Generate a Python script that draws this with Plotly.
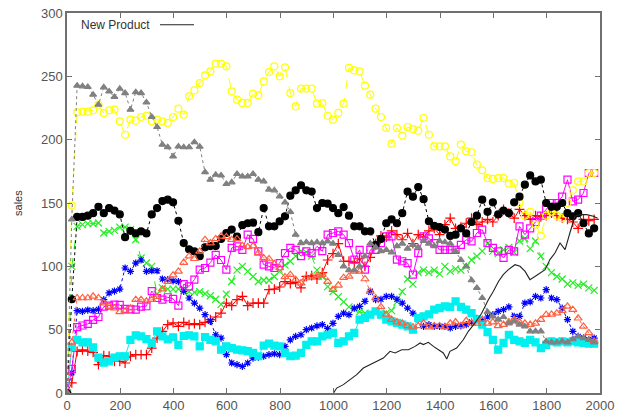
import plotly.graph_objects as go

# sample grid (time steps)
steps = [0] + [18 + 20 * k for k in range(99)]

red_plus = [0, 8,
    32.9, 34, 33, 32, 22.4, 29.5, 29, 25, 25, 23.7, 29, 30.3, 30.3, 30.3, 35.5, 43.4, 48.7, 54, 55.3, 52.6, 55.8, 54, 54.7,
    54, 55.8, 57.9, 60, 63, 71, 69, 73.7, 76.3, 69, 71, 71, 71, 81.6, 82, 83.7, 88, 86.3, 87.4, 83, 92, 92.6,
    90, 95, 105, 110, 118, 104, 104, 103, 106, 100, 107, 118, 124, 123, 128, 125, 121, 126, 118, 125, 123, 128, 130, 125,
    133, 138, 130, 131, 134, 138, 133, 135, 137, 135, 140, 145, 142, 138, 145, 140, 137, 140, 139, 140, 142, 140, 138,
    137, 135, 130, 137, 136, 137]

green_x = [0, 100,
    131.6, 132.9, 133.7, 133.7, 134.2, 126.3, 127.6, 128.4, 131, 131, 129, 121, 106.6, 102.6, 100, 78, 83, 82, 82, 82, 81, 80,
    79.5, 80, 78.4, 76.8,
    74, 70, 78, 88, 97, 100, 96, 92, 88, 89, 89, 92, 96, 101, 104, 108, 112, 111, 108, 97, 92, 84,
    80, 76, 72, 68, 66, 64, 63, 62, 63, 62, 63, 65, 72, 80, 90, 86, 95, 97, 95, 97, 94, 100, 96, 98, 97, 100,
    105, 108, 112, 118, 112, 110, 113, 115, 111, 120, 122, 114, 120, 108, 100, 95, 92, 90, 86, 87, 85, 86, 83, 81]

blue_star = [0, 16,
    65, 64.5, 65.5, 65, 66, 73.7, 79, 80.5, 82, 98.7, 96, 102.6, 105, 96, 96.5, 96.5, 90, 89.5, 88.5, 88, 80.3, 75, 71,
    67, 61.8, 56.6, 46, 43.4, 30.3, 23.7, 22.4, 21, 23.7, 27.6, 28.4, 29, 30.3, 31, 30.3, 36.8, 42, 44.7, 46, 50, 51.3,
    53, 54, 51, 55, 60.5, 63, 61.8, 67, 68.4, 72.4, 80.3, 73.7, 74, 76.3, 76.3, 74, 71, 67, 63, 58, 52.6, 54, 52.6,
    52.6, 52.6, 51.3, 52.6, 53, 54, 56, 59, 57, 60, 61.8, 64.5, 65.8, 68, 60.5, 60.5, 71, 72, 76.3, 75, 81.6, 75,
    73.7, 67, 58, 48.7, 44.7, 43.4, 42, 43.4]

magenta_sq = [0, 19,
    52, 53.3, 54.6, 57.7, 60, 68.2, 69, 69.7, 69.5, 66.4, 66, 65.8, 68.2, 68.5, 80.5, 75, 73.7, 75.6, 74.3, 69, 86, 84.2, 89.5,
    97.4, 98.7, 103, 109, 105, 97.4, 114.5, 115.8, 113, 125, 121.6, 111.8, 101.3, 100, 98.7, 102.6, 110.5, 114.5, 113, 108,
    111.8, 110.5,
    115.8, 112, 125, 126.3, 127.6, 125, 118.4, 105.3, 113, 97.4, 113, 113, 118.4, 123.7, 123.7, 105.3, 104, 102.6, 93.4,
    110.5, 123.7, 122, 118.4, 113, 113, 113, 113, 117, 121, 119.7, 126.3, 129, 118.4, 114.5, 111.8, 106.6, 113, 111.8,
    131.6, 125, 130, 135, 140, 145, 150, 150, 155, 168.4, 151.3, 152.6, 157.9, 173.7, 173.7]

cyan_sq = [0, 36,
    42, 40, 40, 36, 28, 24, 25, 28, 29, 29, 42, 45.5, 44.7, 42.5, 39.5, 48.7, 44.7, 42.3, 44, 38, 45, 45.6, 44.7,
    36.8, 44.2, 42, 40.8, 34.2, 36.8, 35.5, 34.2, 33.7, 33, 31.6, 29, 37.4, 39, 37.4, 36.8, 31.6, 29, 29.5, 31.6, 38, 40.8,
    40.8, 44.7, 46, 47.4, 39.5, 40.8, 44.7, 47.4, 58, 59.2, 61.8, 64.5, 61.8, 58, 56.6, 55.3, 54, 52.6, 50, 59.2, 60.5,
    62, 65.8, 67, 68.4, 68, 72.4, 68, 65.8, 63, 58, 54, 48, 42, 34.2, 39.5, 46, 42, 40.8, 39.5, 42, 40, 35.5, 38, 40.8,
    40, 40.8, 40, 41, 40, 39.5, 39, 39]

yellow_circ = [0, 148,
    221.6, 222.1, 222.1, 223.2, 227.6, 221, 223.2, 223.7, 214.5, 203.9, 215.8, 215, 217.9, 218.9, 214.5, 215.8, 214.5,
    213.2, 217.9, 224.5, 219.7, 234.2, 238.9, 244.7,
    250.8, 253.9, 260, 260, 257.9, 238.2, 231.6, 229, 229, 236.3, 235, 246, 253.4, 257.9, 250, 257.1, 236.8, 226.3,
    240.3, 240.3, 240.3, 228.4, 228.9, 218.9, 215.8,
    221.1, 228.4, 256.6, 254.7, 253.9, 242.6, 235.5, 224.5, 217.9, 209.2, 196.8, 209.2, 203.2, 210, 208.4, 207.1, 217.1,
    203.9, 194.7, 194.7, 194.7, 186.8, 182.9, 196.1, 190.8,
    190, 180.3, 175.8, 169.7, 169, 169.7, 169.7, 165.3, 165.8, 150, 140, 143, 133, 124, 140, 143, 140, 138, 150, 160,
    167, 167, 173.7, 173.7]

black_dot = [0, 74,
    139, 139, 140, 142, 147, 142, 146, 144, 141,
    123, 128, 126, 127.6, 126,
    141, 146, 151.5, 152.6, 150.5, 136,
    118.4, 113.5, 111.8, 108,
    115, 116, 116, 121.6,
    126.3, 129, 123.5, 132.5, 134, 134.5, 127,
    146, 131.6, 131.6, 135.5, 139.5,
    155.8, 160, 164, 160, 159,
    146, 150, 149.5, 146, 142, 146.8, 140, 131.6, 131.6, 127.6, 127.6, 117, 121.6, 134, 137, 134, 142, 159, 155, 162.6,
    153, 135.5, 132, 131, 129, 124, 125, 130, 126, 135, 140, 152.6, 143, 150.5, 141, 144, 142, 150.5, 155, 164.5,
    171.8, 167, 168.4, 150, 147, 147, 150, 142, 139.5, 142, 134, 126, 130]

orange_tri = [0, 40,
    75, 75, 75, 76.3, 75, 71, 68.4, 67, 64, 64.5, 67, 73.7, 73.7, 72.4, 73.7, 76, 82, 88, 93, 96, 103, 108, 106,
    111.8, 121, 118.4, 121.6, 123.7, 123.2, 121, 121.6, 116.3, 115.3, 116, 110.5, 106.6, 105.8, 102, 98.7, 91.6, 93.4,
    89.5, 86.8, 90.8, 92,
    92.6, 93.4, 88, 81.6, 85, 91, 92, 96, 96, 90, 80, 75, 68, 62, 58, 56, 55, 53, 52, 53, 55, 52, 53, 53, 52, 55, 56,
    53, 57, 55, 55, 58, 55, 56, 53, 54, 56, 58, 56, 55, 54, 55, 58, 61.8, 62, 63, 65, 68.4, 65.8, 59, 52.6, 47.4, 40.8]

gray_tri = [0, 137,
    242.6, 242.1, 241.6, 235.5, 227.6, 241.3, 238.1, 233.7, 240.2, 236.8, 223.7, 237.5, 236.8, 229.4, 218, 210, 196,
    194.1, 186.8, 194.6, 194, 194, 198, 194.5,
    174.3, 168.4, 172.3, 171.8, 165, 166.3, 172.9, 171, 171, 172.9, 168.4, 167.1, 160.6, 160, 155.2, 150.5,
    143, 125, 118.4, 119, 118.4, 119, 118.4, 119.7, 118,
    109, 100, 97, 97, 100, 108, 118, 115, 112, 113, 111, 116, 118, 114, 117, 115, 120, 118, 116, 120, 119, 118, 112,
    105, 100,
    89, 83, 75, 64, 60.5, 58, 60, 55, 56.6, 54, 52.6, 48.7, 48.7, 48.7, 40.8, 40, 40, 40.8, 40, 42.6, 44.7, 43.4, 42, 40]

new_x = [1000, 1012, 1037, 1062, 1087, 1112, 1137, 1162, 1187, 1212, 1231, 1256, 1281, 1306, 1325, 1337, 1356, 1375,
         1393, 1412, 1425, 1437, 1462, 1487, 1506, 1531, 1556, 1581, 1600, 1619, 1637, 1656, 1681, 1700, 1719, 1737,
         1756, 1775, 1794, 1812, 1831, 1850, 1869, 1887, 1906, 1925, 1950, 1975, 1991]
new_y = [0, 3.9, 6.6, 10.5, 14.5, 19.7, 22.4, 25, 27.6, 32.9, 31.6, 34.2, 34.2, 36.8, 39.5, 38.2, 40, 36.8,
         34.2, 31.6, 26.8, 32.9, 35.5, 42, 48.7, 55.3, 63, 73.7, 80.3, 88, 93.4, 97.4, 101.3, 100, 96, 89.5,
         92, 94.7, 97.4, 105.3, 110.5, 118.4, 113.2, 126.3, 139.5, 140.8, 140.8, 139.5, 138]

series = [
    (red_plus, "#ff0000", "cross-thin-open", 7, "solid"),
    (green_x, "#22ee22", "x-thin-open", 7, "dash"),
    (blue_star, "#0000ff", "asterisk-open", 6, "dot"),
    (magenta_sq, "#ff00ff", "square-open", 7, "solid"),
    (cyan_sq, "#00f0f0", "square", 7, "solid"),
    (yellow_circ, "#ffff00", "circle-open", 7, "dash"),
    (black_dot, "#000000", "circle", 7, "dot"),
    (orange_tri, "#ff6040", "triangle-up-open", 7, "dot"),
    (gray_tri, "#808080", "triangle-up", 6, "dot"),
]

fig = go.Figure()
for vals, col, sym, sz, dash in series:
    fig.add_trace(go.Scatter(
        x=steps, y=vals, mode="lines+markers", showlegend=False, hoverinfo="skip",
        line=dict(color=col, width=1, dash=dash),
        marker=dict(symbol=sym, size=sz, color=col, line=dict(color=col, width=1.2)),
    ))

fig.add_trace(go.Scatter(x=new_x, y=new_y, mode="lines", name="New Product", showlegend=False, hoverinfo="skip",
                         line=dict(color="#222222", width=1.1)))

axis_common = dict(showline=True, mirror="ticks", linecolor="#707070", linewidth=1.5, automargin=False,
                   ticks="inside", ticklen=5, tickcolor="#707070", showgrid=False, zeroline=False,
                   tickfont=dict(family="Liberation Sans, Arial", size=13, color="#555555"))

fig.update_layout(
    width=624, height=416,
    margin=dict(l=67, r=24, t=13, b=23, autoexpand=False),
    paper_bgcolor="white", plot_bgcolor="white",
    xaxis=dict(range=[0, 2000], tickvals=[0, 200, 400, 600, 800, 1000, 1200, 1400, 1600, 1800, 2000], **axis_common),
    yaxis=dict(range=[0, 300], tickvals=[0, 50, 100, 150, 200, 250, 300], **axis_common),
    annotations=[
        dict(text="sales", xref="paper", yref="paper", x=-0.092, y=0.5, textangle=-90, showarrow=False,
             font=dict(family="Liberation Sans, Arial", size=11, color="#333333"), xanchor="center", yanchor="middle"),
        dict(text="New Product", xref="paper", yref="paper", x=(152 - 67) / 533, y=(393.3 - 25) / 380,
             xanchor="right", yanchor="middle", showarrow=False,
             font=dict(family="Liberation Sans, Arial", size=12, color="#333333")),
    ],
    shapes=[dict(type="line", xref="paper", yref="paper", x0=(160 - 67) / 533, x1=(194 - 67) / 533,
                 y0=(393.3 - 25) / 380, y1=(393.3 - 25) / 380, line=dict(color="#222222", width=1.1))],
)

fig.write_html("out.html", config={"displayModeBar": False})
with open("out.html", "r", encoding="utf-8") as f:
    html = f.read()
html = html.replace("<head>", "<head><style>html,body{margin:0;padding:0;overflow:hidden;}</style>", 1)
with open("out.html", "w", encoding="utf-8") as f:
    f.write(html)
